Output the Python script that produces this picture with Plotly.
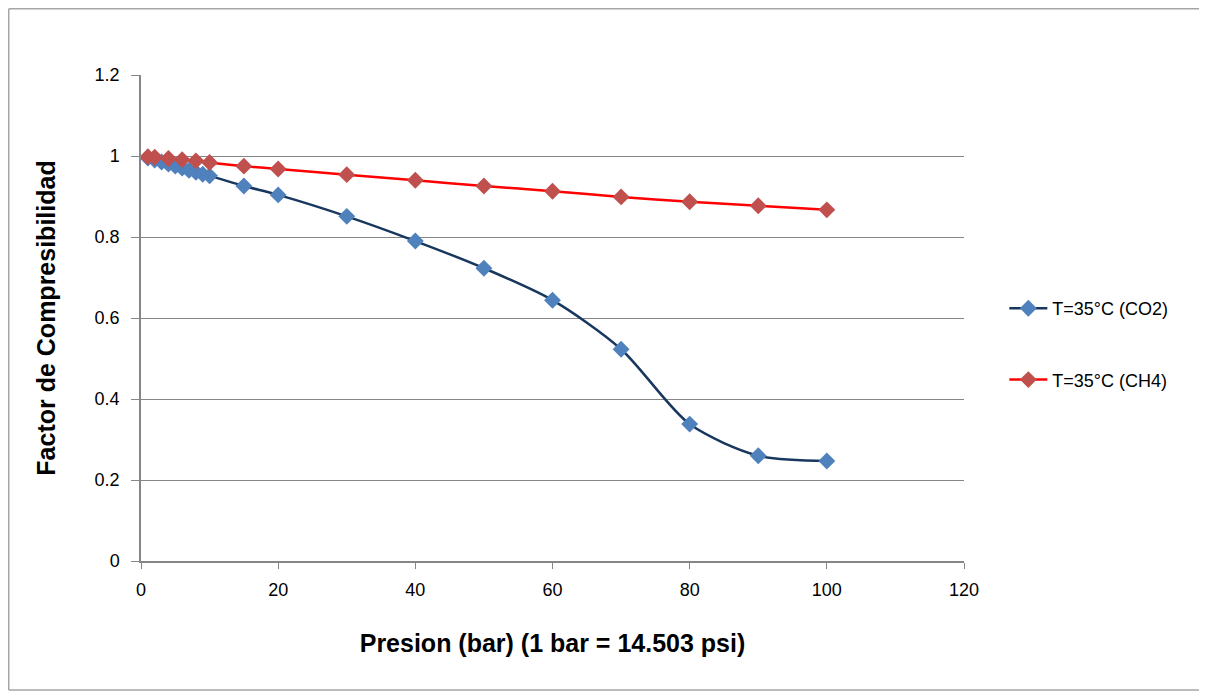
import plotly.graph_objects as go

pressure_co2 = [1, 2, 3, 4, 5, 6, 7, 8, 9, 10, 15, 20, 30, 40, 50, 60, 70, 80, 90, 100]
z_co2 = [0.995, 0.99, 0.985, 0.98, 0.975, 0.97, 0.965, 0.96, 0.955, 0.951, 0.926, 0.904, 0.851, 0.790, 0.723, 0.644, 0.523, 0.338, 0.260, 0.247]
pressure_ch4 = [1, 2, 4, 6, 8, 10, 15, 20, 30, 40, 50, 60, 70, 80, 90, 100]
z_ch4 = [0.998, 0.997, 0.994, 0.991, 0.988, 0.984, 0.975, 0.968, 0.954, 0.940, 0.926, 0.913, 0.899, 0.887, 0.877, 0.867]
x_ticks = [0, 20, 40, 60, 80, 100, 120]
y_ticks = [0, 0.2, 0.4, 0.6, 0.8, 1, 1.2]
y_tick_labels = ["0", "0.2", "0.4", "0.6", "0.8", "1", "1.2"]

FONT = "Liberation Sans"

fig = go.Figure()
fig.add_trace(go.Scatter(
    x=pressure_co2, y=z_co2, name="T=35°C (CO2)", mode="lines+markers", legendgroup="a",
    line=dict(color="#17375E", width=2.5, shape="spline", smoothing=0.8),
    marker=dict(symbol="diamond", size=13, color="#4F81BD"),
))
fig.add_trace(go.Scatter(
    x=pressure_ch4, y=z_ch4, name="T=35°C (CH4)", mode="lines+markers", legendgroup="b",
    line=dict(color="#FF0000", width=2.5, shape="spline", smoothing=0.8),
    marker=dict(symbol="diamond", size=13, color="#C0504D"),
))

border = dict(color="#A6A6A6", width=1.5)
bx0, bx1, by0, by1 = -0.1607, 1.6, -0.2654, 1.1363
fig.update_layout(
    width=1207, height=698,
    margin=dict(l=133, r=251, t=67, b=145),
    paper_bgcolor="white", plot_bgcolor="white",
    font=dict(family=FONT, size=18, color="black"),
    showlegend=True,
    legend=dict(x=1.049, y=0.4465, xanchor="left", yanchor="middle",
                font=dict(family=FONT, size=18), tracegroupgap=45,
                itemwidth=38, bgcolor="rgba(0,0,0,0)"),
    shapes=[
        dict(type="line", xref="paper", yref="paper", x0=bx0, x1=bx1, y0=by1, y1=by1, line=border, layer="below"),
        dict(type="line", xref="paper", yref="paper", x0=bx0, x1=bx0, y0=by0, y1=by1, line=border, layer="below"),
        dict(type="line", xref="paper", yref="paper", x0=bx0, x1=bx1, y0=by0, y1=by0, line=border, layer="below"),
    ],
)
fig.update_xaxes(
    range=[0, 120], tickvals=x_ticks,
    showgrid=False, zeroline=False,
    showline=True, linecolor="#868686", linewidth=1.5,
    ticks="outside", ticklen=6, tickcolor="#868686", ticklabelstandoff=6,
    tickfont=dict(family=FONT, size=18),
    title=dict(text="<b>Presion (bar) (1 bar = 14.503 psi)</b>", font=dict(family=FONT, size=25), standoff=35),
)
fig.update_yaxes(
    range=[0, 1.2], tickvals=y_ticks, ticktext=y_tick_labels,
    showgrid=True, gridcolor="#868686", gridwidth=1.2, zeroline=False,
    showline=True, linecolor="#868686", linewidth=1.5,
    ticks="outside", ticklen=8, tickcolor="#868686", ticklabelstandoff=8,
    tickfont=dict(family=FONT, size=18),
    title=dict(text="<b>Factor de Compresibilidad</b>", font=dict(family=FONT, size=25), standoff=32),
)
fig.write_html("out.html")
